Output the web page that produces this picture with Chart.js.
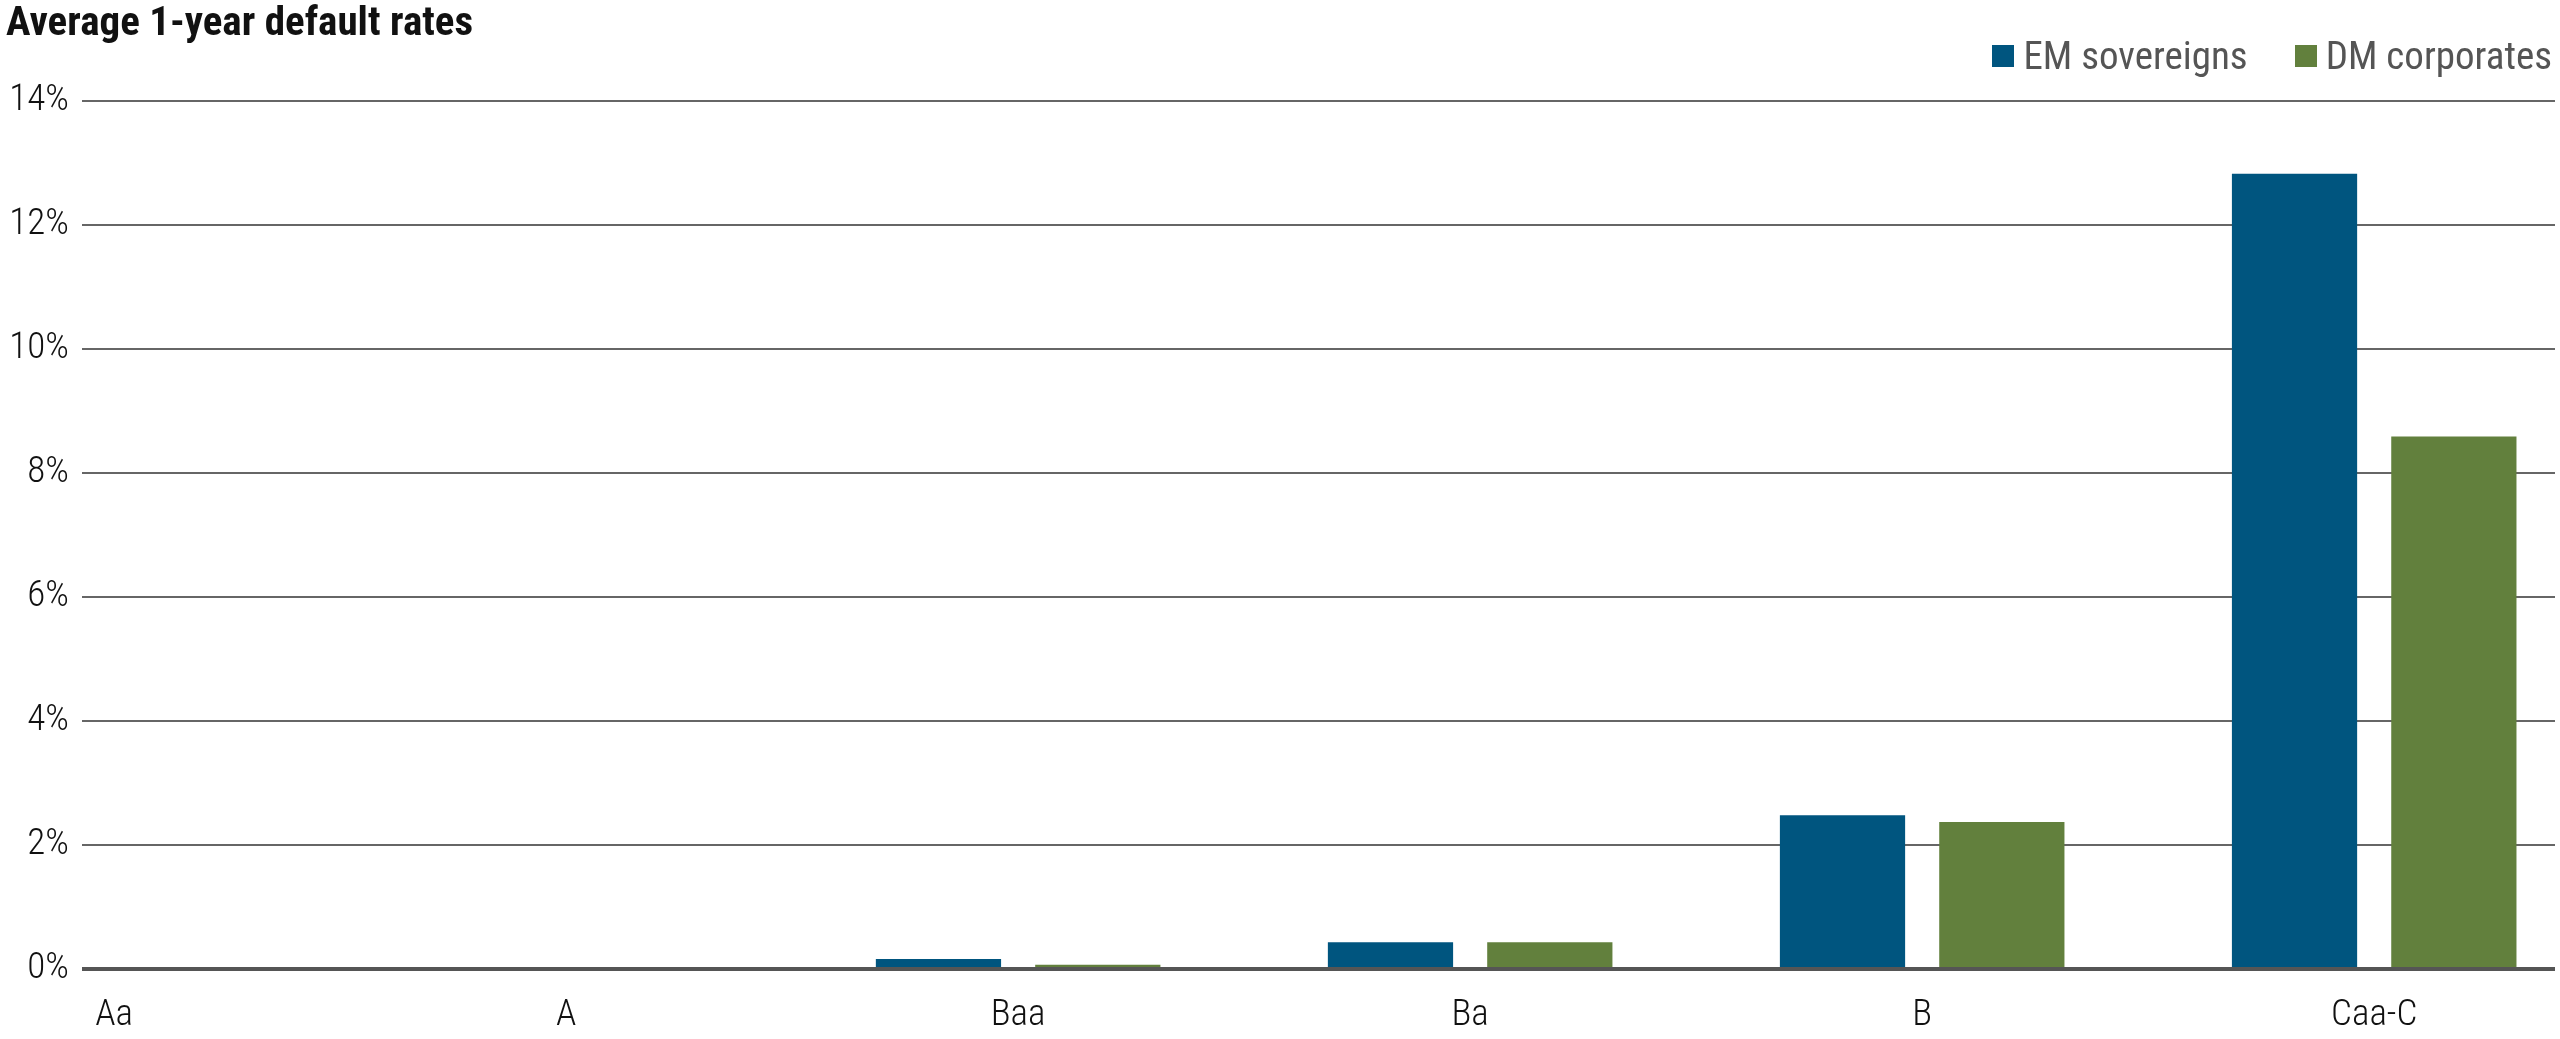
<!DOCTYPE html>
<html>
<head>
<meta charset="utf-8">
<script src="https://cdn.jsdelivr.net/npm/chart.js@4/dist/chart.umd.min.js"></script>
<style>
  html, body { margin: 0; padding: 0; background: #fff; }
  #wrap { position: relative; width: 2560px; height: 1039px; }
  #legend { position: absolute; top: 34px; right: 8px; display: flex; gap: 8px 47px; color: #555;
    font-family: "Roboto Condensed", Roboto, sans-serif; font-size: 39px; line-height: 44px; }
  #legend .item { display: flex; align-items: center; }
  #legend .box { width: 22px; height: 22px; margin-right: 9px; }
</style>
</head>
<body>
<div id="wrap">
  <canvas id="chart" width="2560" height="1039"></canvas>
  <div id="legend"></div>
</div>
<script>
const categories = ['Aa', 'A', 'Baa', 'Ba', 'B', 'Caa-C'];
const seriesNames = ['EM sovereigns', 'DM corporates'];
const emSovereigns = [0, 0, 0.16, 0.43, 2.48, 12.83];
const dmCorporates = [0, 0, 0.07, 0.43, 2.37, 8.59];
const yTicks = [0, 2, 4, 6, 8, 10, 12, 14];
const colors = ['#00557f', '#62803d'];

const fontFamily = '"Roboto Condensed", Roboto, sans-serif';

// html legend built from the chart's datasets
const htmlLegend = {
  id: 'htmlLegend',
  afterUpdate(chart) {
    const el = document.getElementById('legend');
    el.innerHTML = '';
    chart.data.datasets.forEach(ds => {
      const item = document.createElement('div');
      item.className = 'item';
      const box = document.createElement('span');
      box.className = 'box';
      box.style.background = ds.backgroundColor;
      item.appendChild(box);
      item.appendChild(document.createTextNode(ds.label));
      el.appendChild(item);
    });
  }
};

new Chart(document.getElementById('chart'), {
  type: 'bar',
  data: {
    datasets: [
      { label: seriesNames[0], data: categories.map((c, i) => ({ x: i, y: emSovereigns[i] })), backgroundColor: colors[0] },
      { label: seriesNames[1], data: categories.map((c, i) => ({ x: i, y: dmCorporates[i] })), backgroundColor: colors[1] }
    ]
  },
  options: {
    responsive: false,
    animation: false,
    categoryPercentage: 0.705,
    barPercentage: 0.786,
    layout: { padding: { left: 6, right: 5, top: 0, bottom: 3 } },
    plugins: {
      legend: { display: false },
      tooltip: { enabled: false },
      title: {
        display: true,
        text: 'Average 1-year default rates',
        align: 'start',
        color: '#111',
        font: { family: fontFamily, size: 41, weight: 'bold', lineHeight: 1.2 },
        padding: { top: 0, bottom: 52 }
      }
    },
    scales: {
      x: {
        type: 'linear',
        offset: false,
        min: -0.071,
        max: 5.40,
        afterFit: scale => { scale.height = 67; },
        grid: { display: false, drawTicks: false, offset: false },
        border: { display: false },
        afterBuildTicks: scale => { scale.ticks = categories.map((c, i) => ({ value: i })); },
        ticks: {
          autoSkip: false,
          maxRotation: 0,
          padding: 25,
          color: '#111',
          font: { family: fontFamily, size: 37, weight: '300' },
          callback: v => categories[v]
        }
      },
      y: {
        min: 0,
        max: 14,
        afterFit: scale => { scale.width = 76; },
        afterBuildTicks: scale => { scale.ticks = yTicks.map(v => ({ value: v })); },
        grid: {
          drawTicks: false,
          color: ctx => ctx.tick && ctx.tick.value === 0 ? '#555' : '#666',
          lineWidth: ctx => ctx.tick && ctx.tick.value === 0 ? 4 : 2
        },
        border: { display: false },
        ticks: {
          padding: 13,
          color: '#111',
          font: { family: fontFamily, size: 37, weight: '300' },
          callback: v => v + '%'
        }
      }
    }
  },
  plugins: [htmlLegend]
});
</script>
</body>
</html>
